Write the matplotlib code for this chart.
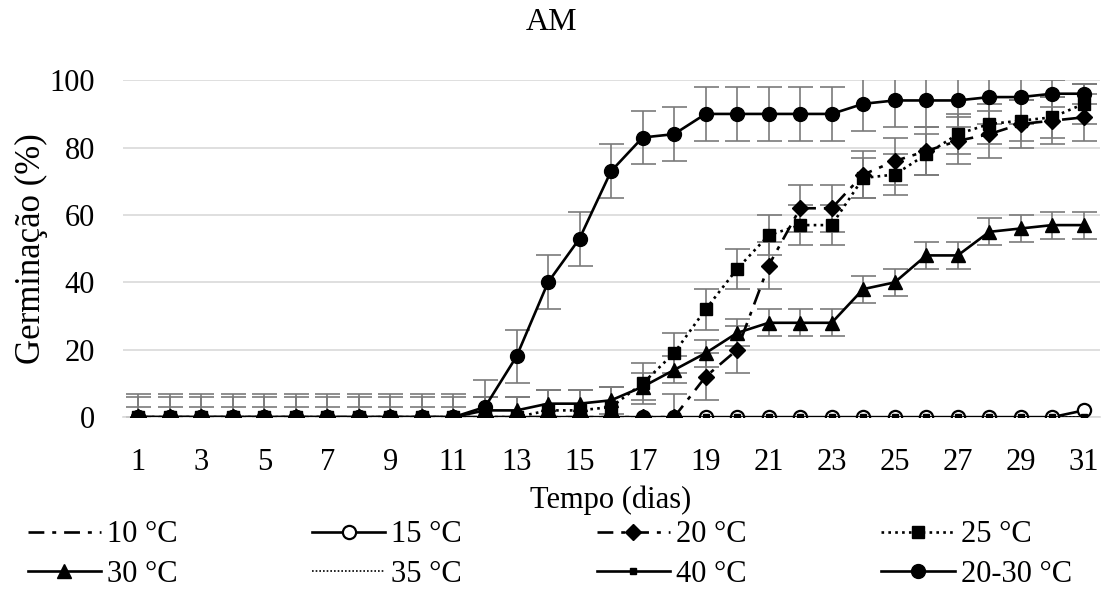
import numpy as np
import matplotlib.pyplot as plt

plt.rcParams['font.family'] = ['Liberation Serif', 'DejaVu Serif']

# Data: germination (%) per day for each temperature
dias = list(range(1, 32))
g10 = [0] * 31
g15 = [0] * 30 + [2]
g20 = [0] * 18 + [12, 20, 45, 62, 62, 72, 76, 79, 82, 84, 87, 88, 89]
g25 = [0] * 13 + [2, 2, 3, 10, 19, 32, 44, 54, 57, 57, 71, 72, 78, 84, 87, 88, 89, 93]
g30 = [0] * 11 + [2, 2, 4, 4, 5, 9, 14, 19, 25, 28, 28, 28, 38, 40, 48, 48, 55, 56, 57, 57]
g35 = [0] * 31
g40 = [0] * 31
g2030 = [0] * 11 + [3, 18, 40, 53, 73, 83, 84, 90, 90, 90, 90, 90, 93, 94, 94, 94, 95, 95, 96, 96]

# error bars (standard deviation)
e20 = [0] * 17 + [7] * 14
e25 = [6] * 31
e30 = [3] * 11 + [4] * 20
e2030 = [7] * 11 + [8] * 18 + [4, 3]

fig = plt.figure(figsize=(11.04, 5.9), dpi=100)
ax = fig.add_axes([0.111, 0.293, 0.885, 0.571])

ecol = '#7a7a7a'
lw = 1.9
eb = dict(fmt='none', ecolor=ecol, elinewidth=1.2, capsize=9, capthick=1.2, zorder=1)

ax.errorbar(dias, g20, yerr=e20, **eb)
ax.errorbar(dias, g25, yerr=e25, **eb)
ax.errorbar(dias, g30, yerr=e30, **eb)
ax.errorbar(dias, g2030, yerr=e2030, **eb)

dd = (0, (6, 3, 1.5, 3))
l10, = ax.plot(dias, g10, color='black', lw=lw, linestyle=dd, label='10 °C', zorder=2)
l15, = ax.plot(dias, g15, color='black', lw=lw, marker='o', ms=9.5, mfc='white', mew=1.6,
               label='15 °C', zorder=3)
l20, = ax.plot(dias, g20, color='black', lw=lw, linestyle=dd, marker='D', ms=8,
               label='20 °C', zorder=4)
l25, = ax.plot(dias, g25, color='black', lw=lw, linestyle=(0, (1, 1.6)), marker='s', ms=8,
               label='25 °C', zorder=5)
l30, = ax.plot(dias, g30, color='black', lw=lw, marker='^', ms=10, label='30 °C', zorder=6)
l35, = ax.plot(dias, g35, color='black', lw=1.2, linestyle=(0, (1, 1.2)), label='35 °C', zorder=7)
l40, = ax.plot(dias, g40, color='black', lw=lw, marker='s', ms=4, label='40 °C', zorder=8)
l2030, = ax.plot(dias, g2030, color='black', lw=lw, marker='o', ms=10, label='20-30 °C', zorder=9)

ax.set_xlim(0.5, 31.5)
ax.set_ylim(0, 100)
ax.set_xticks(range(1, 32, 2))
ax.set_yticks(range(0, 101, 20))
ax.tick_params(length=0, labelsize=22)
ax.tick_params(axis='x', pad=22)
ax.tick_params(axis='y', pad=20)
ax.grid(axis='y', color='#d9d9d9', lw=1.2)
ax.set_axisbelow(True)
for s in ['top', 'right', 'left']:
    ax.spines[s].set_visible(False)
ax.spines['bottom'].set_color('#d9d9d9')
ax.spines['bottom'].set_linewidth(1.2)

fig.text(0.5, 0.962, 'AM', fontsize=23, ha='center', va='center')
ax.set_xlabel('Tempo (dias)', fontsize=22, labelpad=6)
ax.set_ylabel('Germinação (%)', fontsize=25, labelpad=1)

# legend filled row by row like the original
hs = [l10, l30, l15, l35, l20, l40, l25, l2030]
fig.legend(handles=hs, loc='lower left', bbox_to_anchor=(0.0, -0.045), ncol=4, frameon=False,
           fontsize=22, handlelength=2.4, handletextpad=0.2, columnspacing=4.4,
           labelspacing=0.35)

fig.savefig('out.png', dpi=100)
